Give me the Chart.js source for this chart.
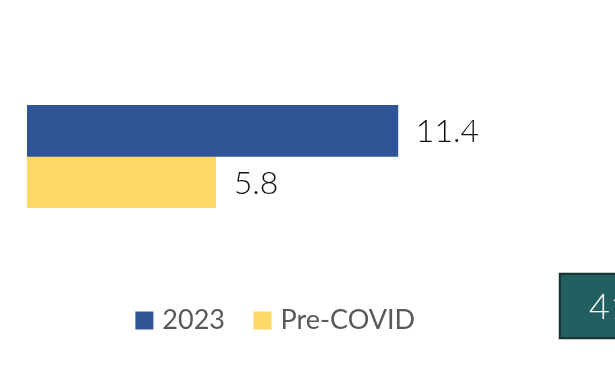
<!DOCTYPE html>
<html lang="en">
<head>
    <meta charset="UTF-8">
    <title>2023 vs Pre-COVID</title>
    <script src="https://cdn.jsdelivr.net/npm/chart.js"></script>
    <style>
        html, body { margin: 0; padding: 0; background: #fff; }
        .wrap { position: relative; width: 615px; height: 376px; overflow: hidden; }
        .tile {
            position: absolute; left: 559px; top: 273px; width: 80px; height: 66px;
            background: #235e61; border: 2px solid #173636; box-sizing: border-box;
            box-shadow: 0 0 0 1px #c8c8c8;
            color: #f4f4f4; font-family: 'Lato', sans-serif; font-weight: 300;
            font-size: 36px; line-height: 60px; padding-left: 28px;
        }
    </style>
</head>
<body>
    <div class="wrap">
        <canvas id="barChart" width="615" height="376"></canvas>
        <div class="tile">41</div>
    </div>

    <script>
        const categories = [''];
        const seriesNames = ['2023', 'Pre-COVID'];
        const values2023 = [11.4];
        const valuesPreCovid = [5.8];
        const seriesColors = ['#2f5597', '#ffd966'];

        // value labels to the right of each bar
        const valueLabels = {
            id: 'valueLabels',
            afterDatasetsDraw(chart) {
                const ctx = chart.ctx;
                ctx.save();
                ctx.font = '300 32px Lato, sans-serif';
                ctx.fillStyle = '#111';
                ctx.textBaseline = 'middle';
                chart.data.datasets.forEach((ds, i) => {
                    chart.getDatasetMeta(i).data.forEach((bar, j) => {
                        ctx.fillText(ds.data[j].toFixed(1), bar.x + 18, bar.y + 1);
                    });
                });
                ctx.restore();
            }
        };

        // legend swatch: small box with a thick stroke in the same colour,
        // so the square is bigger while the text stays close to it
        const defaultLabels = Chart.defaults.plugins.legend.labels.generateLabels;
        const swatchLabels = (chart) => defaultLabels(chart).map(item => {
            item.lineWidth = 9;
            item.strokeStyle = item.fillStyle;
            return item;
        });

        new Chart(document.getElementById('barChart'), {
            type: 'bar',
            data: {
                labels: categories,
                datasets: [
                    { label: seriesNames[0], data: values2023, backgroundColor: seriesColors[0] },
                    { label: seriesNames[1], data: valuesPreCovid, backgroundColor: seriesColors[1] }
                ]
            },
            options: {
                indexAxis: 'y',
                responsive: false,
                animation: false,
                categoryPercentage: 1,
                barPercentage: 1,
                layout: { padding: { left: 27, right: 87, top: 105, bottom: 32 } },
                scales: {
                    x: { display: false, min: 0, max: 15.4 },
                    y: { display: false }
                },
                plugins: {
                    tooltip: { enabled: false },
                    legend: {
                        position: 'bottom',
                        maxHeight: 200,
                        title: {
                            display: true,
                            text: '',
                            font: { size: 10 },
                            padding: { top: 54, bottom: 0 }
                        },
                        labels: {
                            boxWidth: 9,
                            boxHeight: 9,
                            padding: 33,
                            color: '#595959',
                            font: { family: 'Lato', size: 27 },
                            generateLabels: swatchLabels
                        }
                    }
                }
            },
            plugins: [valueLabels]
        });
    </script>
</body>
</html>
